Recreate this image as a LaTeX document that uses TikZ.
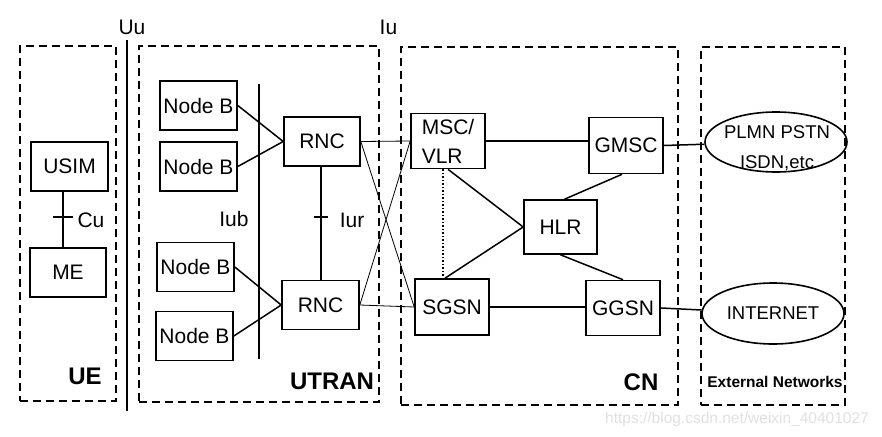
\documentclass[tikz,border=0pt]{standalone}
\usepackage{fontspec}
\setmainfont{Liberation Sans}
\usetikzlibrary{shapes.geometric}
\begin{document}
\begin{tikzpicture}[x=1pt,y=-1pt,
  box/.style={draw, line width=1.6pt, inner sep=0pt, font=\fontsize{21}{29}\selectfont},
  ell/.style={draw, ellipse, line width=1.6pt, inner sep=0pt},
  region/.style={draw, line width=1.6pt, dash pattern=on 8pt off 5pt, inner sep=0pt},
  bar/.style={line width=1.8pt},
  link/.style={line width=1.5pt},
  thinlink/.style={line width=0.8pt},
  lbl/.style={font=\fontsize{21}{25}\selectfont, inner sep=0pt, anchor=base},
  big/.style={font=\fontsize{24}{28}\selectfont\bfseries, inner sep=0pt, anchor=base},
]
\useasboundingbox (0,0) rectangle (882,436);
% regions
\node[region, minimum width=96, minimum height=355] (UEbox) at (68,223.5) {};
\node[region, minimum width=240, minimum height=356] (UTRANbox) at (259,224) {};
\node[region, minimum width=277, minimum height=358] (CNbox) at (539.5,226) {};
\node[region, minimum width=144, minimum height=358] (EXTbox) at (773,226) {};
% interface bars
\coordinate (uuT) at (127,40);
\coordinate (uuB) at (127,411);
\draw[bar] (uuT) -- (uuB);
\coordinate (iubT) at (259,84);
\coordinate (iubB) at (259,359);
\draw[bar] (iubT) -- (iubB);
% labels
\node[lbl] (Uu) at (132,35) {Uu};
\node[lbl] (Iu) at (388.5,35) {Iu};
\node[lbl] (Cu) at (91,227) {Cu};
\node[lbl] (Iub) at (234,226) {Iub};
\node[lbl] (Iur) at (352,227) {Iur};
\node[big] (UE) at (85,384) {UE};
\node[big] (UTRAN) at (332,389) {UTRAN};
\node[big] (CN) at (641,390) {CN};
\node[font=\fontsize{15.5}{18}\selectfont\bfseries, inner sep=0pt, anchor=base] (EXT) at (775,387) {External Networks};
% UE
\node[box, minimum width=77, minimum height=49] (USIM) at (69.5,166.5) {USIM};
\node[box, minimum width=76, minimum height=49] (ME) at (68,272.5) {ME};
\coordinate (cu) at (63,217);
\draw[link] (cu |- USIM.south) -- (cu |- ME.north);
\draw[link] ([xshift=-10pt]cu) -- ([xshift=10pt]cu);
% UTRAN
\node[box, minimum width=77, minimum height=49] (NB1) at (198.5,105.5) {Node B};
\node[box, minimum width=77, minimum height=49] (NB2) at (198.5,166.5) {Node B};
\node[box, minimum width=77, minimum height=49] (NB3) at (195.5,267) {Node B};
\node[box, minimum width=77, minimum height=49] (NB4) at (194.5,336) {Node B};
\node[box, minimum width=76, minimum height=49] (RNC1) at (322,141.5) {RNC};
\node[box, minimum width=77, minimum height=49] (RNC2) at (320.5,305) {RNC};
\draw[link] (NB1.east) -- (RNC1.west);
\draw[link] (NB2.east) -- (RNC1.west);
\draw[link] (NB3.east) -- (RNC2.west);
\draw[link] (NB4.east) -- (RNC2.west);
\coordinate (iur) at (321,217);
\draw[link] (iur |- RNC1.south) -- (iur |- RNC2.north);
\draw[link] ([xshift=-7pt]iur) -- ([xshift=7pt]iur);
% CN
\node[box, minimum width=74, minimum height=55, align=left] (MSC) at (448,141) {MSC/\\VLR};
\node[box, minimum width=74, minimum height=56] (GMSC) at (626,145.5) {GMSC};
\node[box, minimum width=73, minimum height=54] (HLR) at (560.5,227) {HLR};
\node[box, minimum width=74, minimum height=56] (SGSN) at (452,307) {SGSN};
\node[box, minimum width=74, minimum height=55] (GGSN) at (623,308) {GGSN};
% external
\node[ell, minimum width=142, minimum height=60] (PLMN) at (776,142) {};
\node[font=\fontsize{18.5}{30}\selectfont, align=center, inner sep=0pt] (PLMNtxt) at (777,148) {PLMN PSTN\\ISDN,etc};
\node[ell, minimum width=142, minimum height=61, font=\fontsize{18.5}{22}\selectfont] (INET) at (773,313.5) {INTERNET};
% Iu connections
\draw[thinlink] (RNC1.east) -- (MSC.west);
\draw[thinlink] (RNC1.east) -- (SGSN.west);
\draw[thinlink] (RNC2.east) -- (MSC.west);
\draw[thinlink] (RNC2.east) -- (SGSN.west);
% core links
\draw[link] (MSC.east) -- (GMSC.west |- MSC.east);
\draw[link] (MSC.south) -- (HLR.west);
\coordinate (dot) at (443,0);
\draw[link, dotted] (dot |- MSC.south) -- (dot |- SGSN.north);
\draw[link] ([xshift=-7pt]SGSN.north) -- (HLR.west);
\draw[link] ([xshift=-4pt]GMSC.south) -- ([xshift=4pt]HLR.north);
\draw[link] (HLR.south) -- (GGSN.north);
\draw[link] (SGSN.east) -- (GGSN.west |- SGSN.east);
\draw[link] (GMSC.east) -- (PLMN);
\draw[link] (GGSN.east) -- (INET);
% watermark
\node[font=\fontsize{15.5}{18}\selectfont, text=black!12, inner sep=0pt, anchor=base] (wm) at (737,423) {https://blog.csdn.net/weixin\_40401027};
\end{tikzpicture}
\end{document}
